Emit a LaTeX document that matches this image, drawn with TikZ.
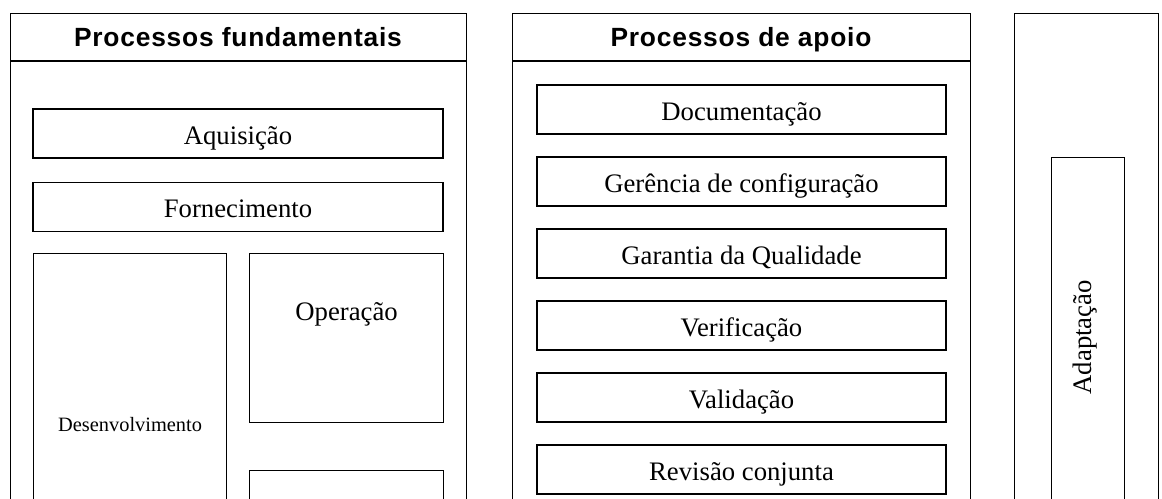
\documentclass[tikz,border=0pt]{standalone}
\usepackage{fontspec}
\setmainfont{Liberation Serif}
\newfontfamily\headfont[LetterSpace=3]{Liberation Sans}
\usetikzlibrary{positioning,calc}

\tikzstyle{panel}=[draw, line width=0.7pt, anchor=north west, inner sep=0pt]
\tikzstyle{proc}=[draw, line width=0.7pt, inner sep=0pt, minimum height=0.98cm, text height=0.44cm, text depth=0pt, font=\fontsize{15.2}{18}\selectfont]
\tikzstyle{phead}=[anchor=base, font=\headfont\bfseries\fontsize{15}{18}\selectfont]

\begin{document}
\begin{tikzpicture}[x=0.02cm, y=-0.02cm]
\useasboundingbox (0,0) rectangle (1162,498);
\clip (0,0) rectangle (1162,498);

% processos fundamentais
\node[panel, minimum width=9.12cm, minimum height=12.14cm] (fund) at (10,13) {};
\draw[line width=0.7pt] ($(fund.north west)+(0,48)$) -- ($(fund.north east)+(0,48)$);
\node[phead] (tfund) at (238,46) {Processos fundamentais};

\node[proc, minimum width=8.2cm] (aquis) at (238,133.5) {Aquisição};
\node[proc, minimum width=8.2cm, below=0.46cm of aquis] (fornec) {Fornecimento};
\node[proc, minimum width=3.86cm, minimum height=6.84cm, anchor=north west, text height=0.27cm, font=\fontsize{11.6}{14}\selectfont] (desenv) at (33,253) {Desenvolvimento};
\node[proc, minimum width=3.88cm, minimum height=3.38cm, anchor=north west] (oper) at (249,253) {};
\node[font=\fontsize{15.2}{18}\selectfont, text height=0.44cm, text depth=0pt] (toper) at ($(oper.north)+(0,56)$) {Operação};
\node[proc, minimum width=3.88cm, minimum height=3.4cm, below=0.94cm of oper] (manut) {};

% processos de apoio
\node[panel, minimum width=9.16cm, minimum height=12.14cm] (apoio) at (512,13) {};
\draw[line width=0.7pt] ($(apoio.north west)+(0,48)$) -- ($(apoio.north east)+(0,48)$);
\node[phead] (tapoio) at (741,46) {Processos de apoio};

\foreach \txt [count=\i] in {Documentação, Gerência de configuração, Garantia da Qualidade, Verificação, Validação, Revisão conjunta}
  \node[proc, minimum width=8.18cm] (apoio\i) at (741.5,{37.5+72*\i}) {\txt};

% adaptacao
\node[panel, minimum width=2.89cm, minimum height=12.14cm] (adapt) at (1013.7,13) {};
\node[proc, rotate=90, minimum width=7.2cm, minimum height=1.46cm, text height=0.14cm] (adaptbox) at (1087.8,337.3) {Adaptação};

\end{tikzpicture}
\end{document}
